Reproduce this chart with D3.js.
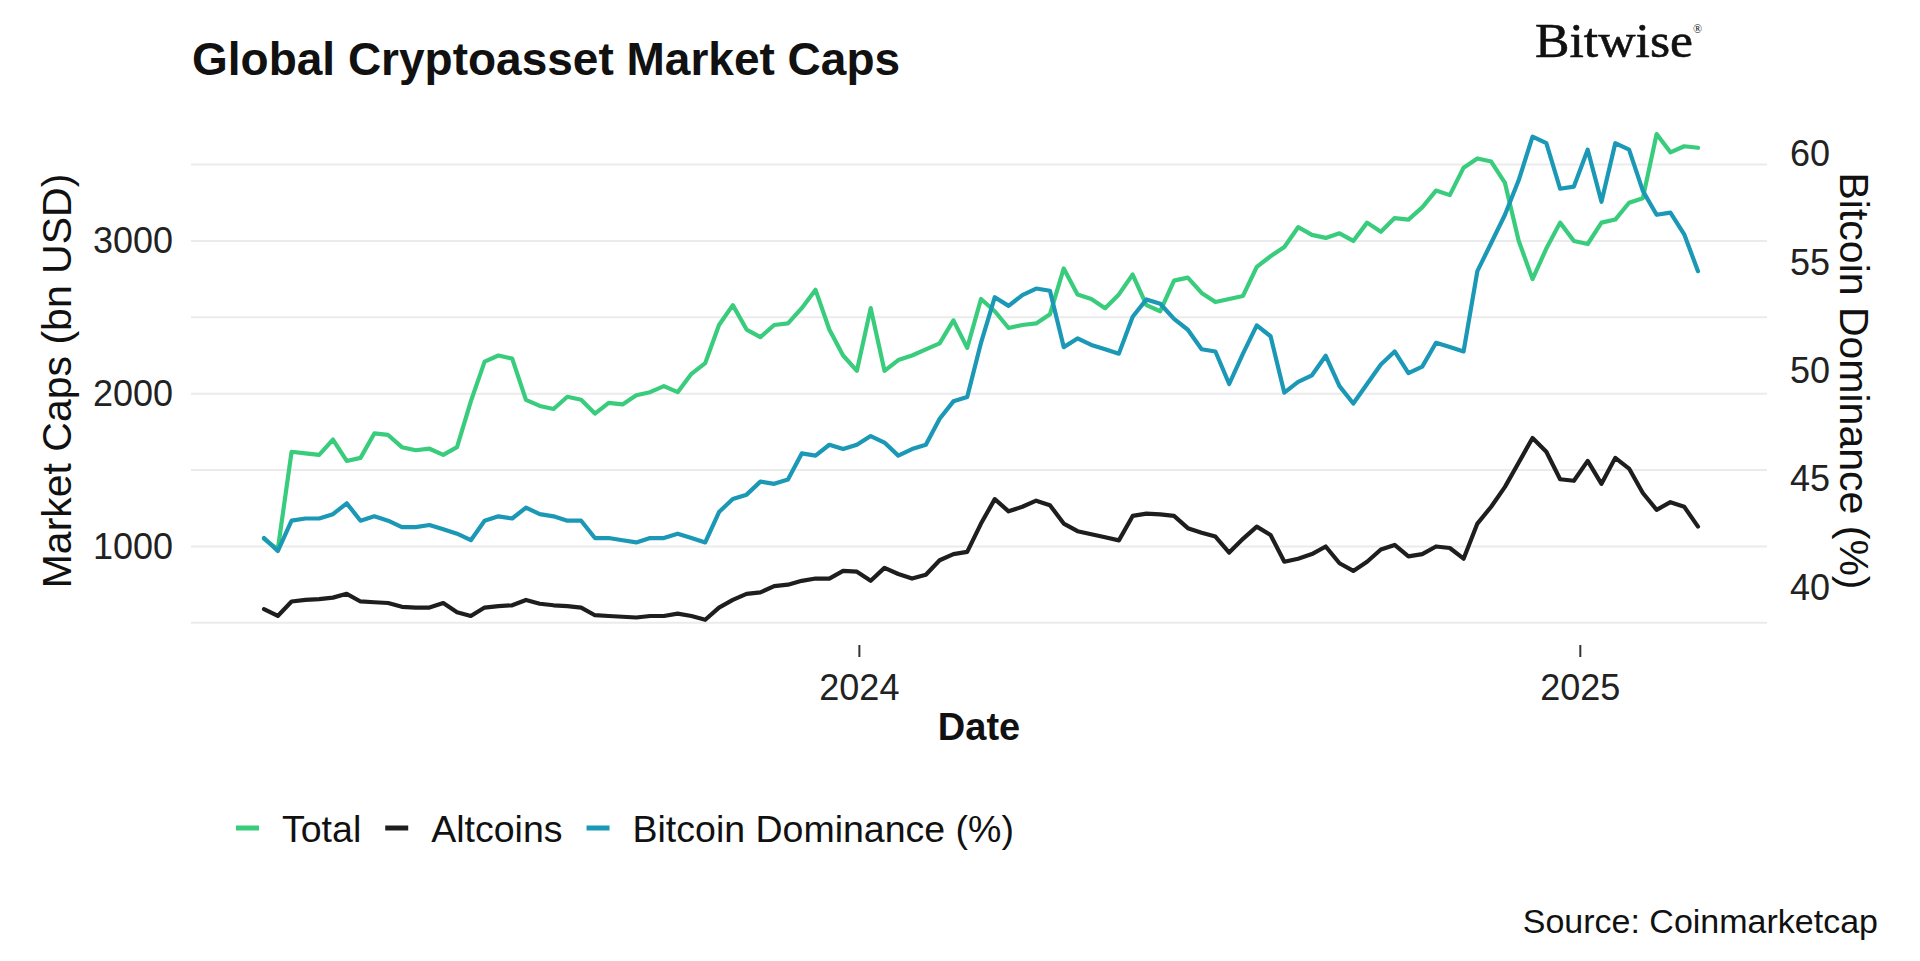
<!DOCTYPE html>
<html><head><meta charset="utf-8">
<script src="https://cdn.jsdelivr.net/npm/d3@7"></script>
<style>
html,body{margin:0;padding:0;background:#fff;}
svg{display:block;font-family:"Liberation Sans",Arial,Helvetica,sans-serif;}
</style></head><body>
<svg id="chart" width="1920" height="961"></svg>
<script>
// ---- data (weekly readings from the reference) ----
const startDate = "2023-03-05";
const stepDays = 7;
const totalValues = [
1050, 980,1620,1610,1600,1700,1560,1580,1740,1730,
1650,1630,1640,1600,1650,1950,2210,2250,2230,1960,
1920,1900,1980,1960,1870,1940,1930,1990,2010,2050,
2010,2130,2200,2450,2580,2420,2370,2450,2460,2560,
2680,2420,2250,2150,2560,2150,2220,2250,2290,2330,
2480,2300,2620,2540,2430,2450,2460,2520,2820,2650,
2620,2560,2650,2780,2580,2540,2740,2760,2660,2600,
2620,2640,2830,2900,2960,3090,3040,3020,3050,3000,
3120,3060,3150,3140,3220,3330,3300,3480,3540,3520,
3380,3000,2750,2950,3120,3000,2980,3120,3140,3250,
3280,3700,3580,3620,3610];
const altcoinValues = [
590, 545, 640, 650, 655, 665, 690, 640, 635, 630,
605, 600, 600, 630, 570, 545, 600, 610, 615, 650,
625, 615, 610, 600, 550, 545, 540, 535, 545, 545,
560, 545, 520, 600, 650, 690, 700, 740, 750, 775,
790, 790, 840, 835, 775, 860, 820, 790, 815, 910,
950, 965,1150,1310,1230,1260,1300,1270,1150,1100,
1080,1060,1040,1200,1215,1210,1200,1120,1090,1065,
960,1050,1130,1075, 900, 920, 950,1000, 890, 840,
900, 980,1010, 935, 950,1000, 990, 920,1150,1260,
1390,1550,1710,1620,1440,1430,1560,1410,1580,1510,
1350,1240,1290,1260,1130];
const dominanceValues = [
42.3,41.7,43.1,43.2,43.2,43.4,43.9,43.1,43.3,43.1,
42.8,42.8,42.9,42.7,42.5,42.2,43.1,43.3,43.2,43.7,
43.4,43.3,43.1,43.1,42.3,42.3,42.2,42.1,42.3,42.3,
42.5,42.3,42.1,43.5,44.1,44.3,44.9,44.8,45.0,46.2,
46.1,46.6,46.4,46.6,47.0,46.7,46.1,46.4,46.6,47.8,
48.6,48.8,51.3,53.4,53.0,53.5,53.8,53.7,51.1,51.5,
51.2,51.0,50.8,52.5,53.3,53.1,52.4,51.9,51.0,50.9,
49.4,50.8,52.1,51.6,49.0,49.5,49.8,50.7,49.3,48.5,
49.4,50.3,50.9,49.9,50.2,51.3,51.1,50.9,54.6,55.9,
57.2,58.8,60.8,60.5,58.4,58.5,60.2,57.8,60.5,60.2,
58.3,57.2,57.3,56.3,54.6];
const leftTicks = [1000, 2000, 3000];
const gridValues = [500, 1000, 1500, 2000, 2500, 3000, 3500];
const rightTicks = [40, 45, 50, 55, 60];
const xTickDates = ["2024-01-01", "2025-01-01"];
const xTickLabels = ["2024", "2025"];
const seriesNames = ["Total", "Altcoins", "Bitcoin Dominance (%)"];
const seriesColors = ["#38cc7c", "#1e1e1e", "#1a98b5"];

// ---- layout ----
const W = 1920, H = 961;
const panel = {left: 191, right: 1767, top: 105, bottom: 645};
const parse = d3.utcParse("%Y-%m-%d");
const t0 = parse(startDate);
const dates = totalValues.map((_, i) => d3.utcDay.offset(t0, i * stepDays));

const x = d3.scaleUtc().domain([dates[0], dates[dates.length - 1]]).range([264, 1698]);
const yL = d3.scaleLinear().domain([355, 3890]).range([panel.bottom, panel.top]);
const yR = d3.scaleLinear().domain([37.37, 62.26]).range([panel.bottom, panel.top]);

const svg = d3.select("#chart");
svg.append("rect").attr("width", W).attr("height", H).attr("fill", "#fff");

// gridlines
svg.append("g").selectAll("line").data(gridValues).join("line")
  .attr("x1", panel.left).attr("x2", panel.right)
  .attr("y1", d => yL(d)).attr("y2", d => yL(d))
  .attr("stroke", "#ebebeb").attr("stroke-width", 2);

// left axis
const gL = svg.append("g").attr("transform", `translate(${panel.left},0)`)
  .call(d3.axisLeft(yL).tickValues(leftTicks).tickSize(0).tickPadding(18).tickFormat(d3.format("d")));
gL.select(".domain").remove();
gL.selectAll("text").attr("font-size", 36).attr("fill", "#222").attr("font-family", "Liberation Sans, Arial, sans-serif");

// right axis
const gR = svg.append("g").attr("transform", `translate(${panel.right},0)`)
  .call(d3.axisRight(yR).tickValues(rightTicks).tickSize(0).tickPadding(23).tickFormat(d3.format("d")));
gR.select(".domain").remove();
gR.selectAll("text").attr("font-size", 36).attr("fill", "#222").attr("font-family", "Liberation Sans, Arial, sans-serif");

// bottom axis
const gB = svg.append("g").attr("transform", `translate(0,${panel.bottom})`)
  .call(d3.axisBottom(x).tickValues(xTickDates.map(parse)).tickSize(12).tickPadding(17)
    .tickFormat((d, i) => xTickLabels[i]));
gB.select(".domain").remove();
gB.selectAll("line").attr("stroke", "#333").attr("stroke-width", 2);
gB.selectAll("text").attr("font-size", 36).attr("fill", "#222").attr("font-family", "Liberation Sans, Arial, sans-serif");

// lines
const lineL = d3.line().x((d, i) => x(dates[i])).y(d => yL(d));
const lineR = d3.line().x((d, i) => x(dates[i])).y(d => yR(d));
const plotG = svg.append("g").attr("fill", "none").attr("stroke-width", 4.2)
  .attr("stroke-linejoin", "round").attr("stroke-linecap", "round");
plotG.append("path").attr("d", lineL(totalValues)).attr("stroke", seriesColors[0]);
plotG.append("path").attr("d", lineL(altcoinValues)).attr("stroke", seriesColors[1]);
plotG.append("path").attr("d", lineR(dominanceValues)).attr("stroke", seriesColors[2]);

// titles
svg.append("text").attr("x", 192).attr("y", 75).attr("font-size", 46).attr("font-weight", "bold")
  .attr("fill", "#111").text("Global Cryptoasset Market Caps");

const logo = svg.append("text").attr("x", 1535).attr("y", 57)
  .attr("font-family", "Liberation Serif, 'Times New Roman', serif").attr("font-size", 48)
  .attr("fill", "#111").attr("stroke", "#111").attr("stroke-width", 0.6);
logo.append("tspan").text("Bitwise").attr("textLength", 158).attr("lengthAdjust", "spacingAndGlyphs");
logo.append("tspan").text("®").attr("font-size", 12).attr("stroke-width", 0).attr("dy", -24);

const midY = (panel.top + panel.bottom) / 2 + 6;
svg.append("text").attr("transform", `translate(71,${midY}) rotate(-90)`).attr("text-anchor", "middle")
  .attr("font-size", 41).attr("fill", "#111").text("Market Caps (bn USD)");
svg.append("text").attr("transform", `translate(1840,${midY}) rotate(90)`).attr("text-anchor", "middle")
  .attr("font-size", 41).attr("fill", "#111").text("Bitcoin Dominance (%)");

svg.append("text").attr("x", (panel.left + panel.right) / 2).attr("y", 740).attr("text-anchor", "middle")
  .attr("font-size", 38).attr("font-weight", "bold").attr("fill", "#111").text("Date");

// legend
const legend = svg.append("g").attr("transform", "translate(236,828)");
let lx = 0;
seriesNames.forEach((name, i) => {
  legend.append("line").attr("x1", lx).attr("x2", lx + 23).attr("y1", 0).attr("y2", 0)
    .attr("stroke", seriesColors[i]).attr("stroke-width", 5);
  const t = legend.append("text").attr("x", lx + 46).attr("y", 14).attr("font-size", 37.5)
    .attr("fill", "#111").text(name);
  lx += 46 + t.node().getComputedTextLength() + 24;
});

// source
svg.append("text").attr("x", 1878).attr("y", 933).attr("text-anchor", "end")
  .attr("font-size", 34).attr("fill", "#111").text("Source: Coinmarketcap");
</script>
</body></html>
